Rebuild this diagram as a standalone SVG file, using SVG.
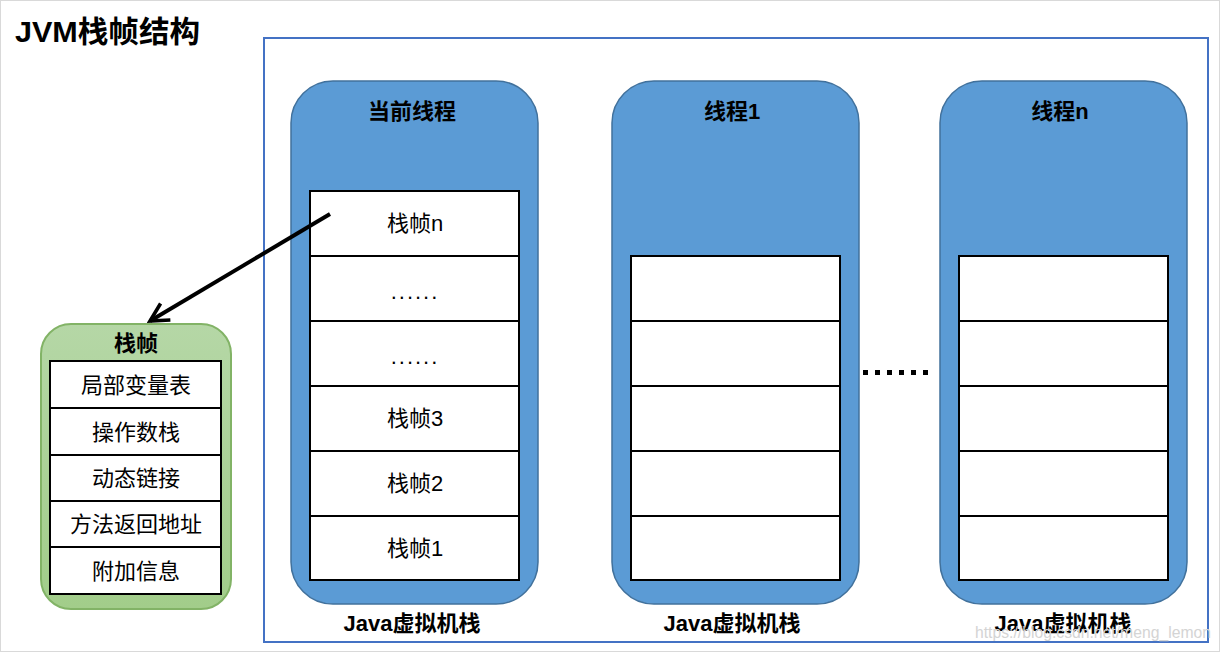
<svg xmlns="http://www.w3.org/2000/svg" width="1220" height="652" viewBox="0 0 1220 652">
<defs>
<style>
text{font-family:"Liberation Sans","Noto Sans CJK SC",sans-serif;fill:#000;}
.b{font-weight:bold;}
.t{font-size:22px;text-anchor:middle;font-weight:bold;}
.c{font-size:22px;text-anchor:middle;}
.thread{fill:#5B9BD5;stroke:#41719C;stroke-width:1.5;}
.cell{fill:#fff;stroke:#000;stroke-width:2;}
</style>
<linearGradient id="g" x1="0" y1="0" x2="0" y2="1">
<stop offset="0" stop-color="#B5D7A6"/>
<stop offset="1" stop-color="#A2CD8A"/>
</linearGradient>
<marker id="ah" viewBox="0 0 20 20" refX="17" refY="10" markerWidth="6" markerHeight="6" markerUnits="strokeWidth" orient="auto">
<path d="M2,2 L17,10 L2,18" fill="none" stroke="#000" stroke-width="3"/>
</marker>
</defs>
<rect x="0" y="0" width="1220" height="652" fill="#fff"/>
<rect x="0.5" y="0.5" width="1219" height="651" fill="none" stroke="#d9d9d9"/>
<text class="b" x="15" y="42" font-size="30" textLength="185" lengthAdjust="spacingAndGlyphs">JVM栈帧结构</text>
<rect x="264" y="38" width="944" height="604" fill="none" stroke="#4472C4" stroke-width="2"/>

<g id="thread-current">
<rect class="thread" x="291" y="81" width="247" height="523" rx="42"/>
<text class="t" x="412" y="119">当前线程</text>
<rect class="cell" x="310" y="191" width="209" height="65"/>
<rect class="cell" x="310" y="256" width="209" height="65"/>
<rect class="cell" x="310" y="321" width="209" height="65"/>
<rect class="cell" x="310" y="386" width="209" height="65"/>
<rect class="cell" x="310" y="451" width="209" height="65"/>
<rect class="cell" x="310" y="516" width="209" height="64"/>
<text class="c" x="415" y="231">栈帧n</text>
<text class="c" x="415" y="299" letter-spacing="2">......</text>
<text class="c" x="415" y="364" letter-spacing="2">......</text>
<text class="c" x="415" y="426" font-size="23">栈帧3</text>
<text class="c" x="415" y="491">栈帧2</text>
<text class="c" x="415" y="556">栈帧1</text>
<text class="t" x="412" y="631">Java虚拟机栈</text>
</g>

<g id="thread-1">
<rect class="thread" x="612" y="81" width="247" height="523" rx="42"/>
<text class="t" x="732" y="119">线程1</text>
<rect class="cell" x="631" y="256" width="209" height="65"/>
<rect class="cell" x="631" y="321" width="209" height="65"/>
<rect class="cell" x="631" y="386" width="209" height="65"/>
<rect class="cell" x="631" y="451" width="209" height="65"/>
<rect class="cell" x="631" y="516" width="209" height="64"/>
<text class="t" x="732" y="631">Java虚拟机栈</text>
</g>

<g id="thread-n">
<rect class="thread" x="940" y="81" width="247" height="523" rx="42"/>
<text class="t" x="1060" y="119">线程n</text>
<rect class="cell" x="959" y="256" width="209" height="65"/>
<rect class="cell" x="959" y="321" width="209" height="65"/>
<rect class="cell" x="959" y="386" width="209" height="65"/>
<rect class="cell" x="959" y="451" width="209" height="65"/>
<rect class="cell" x="959" y="516" width="209" height="64"/>
<text class="t" x="1063" y="631">Java虚拟机栈</text>
</g>

<g id="ellipsis">
<g fill="#000">
<rect x="863" y="370" width="5" height="5"/>
<rect x="875" y="370" width="5" height="5"/>
<rect x="887" y="370" width="5" height="5"/>
<rect x="899" y="370" width="5" height="5"/>
<rect x="911" y="370" width="5" height="5"/>
<rect x="923" y="370" width="5" height="5"/>
</g>
</g>

<g id="frame">
<rect x="41" y="324" width="190" height="285" rx="30" fill="url(#g)" stroke="#82B366" stroke-width="2"/>
<text class="t" x="136" y="351">栈帧</text>
<rect class="cell" x="50" y="361" width="171" height="47"/>
<rect class="cell" x="50" y="408" width="171" height="47"/>
<rect class="cell" x="50" y="455" width="171" height="46"/>
<rect class="cell" x="50" y="501" width="171" height="46"/>
<rect class="cell" x="50" y="547" width="171" height="47"/>
<text class="c" x="136" y="393">局部变量表</text>
<text class="c" x="136" y="440">操作数栈</text>
<text class="c" x="136" y="486">动态链接</text>
<text class="c" x="136" y="532">方法返回地址</text>
<text class="c" x="136" y="579">附加信息</text>
</g>

<g id="connectors">
<line x1="330" y1="214" x2="150" y2="321" stroke="#000" stroke-width="4" marker-end="url(#ah)"/>
</g>

<text x="975" y="638" font-size="17" textLength="236" lengthAdjust="spacingAndGlyphs" style="fill:#d4d4d4">https://blog.csdn.net/meng_lemon</text>
</svg>
